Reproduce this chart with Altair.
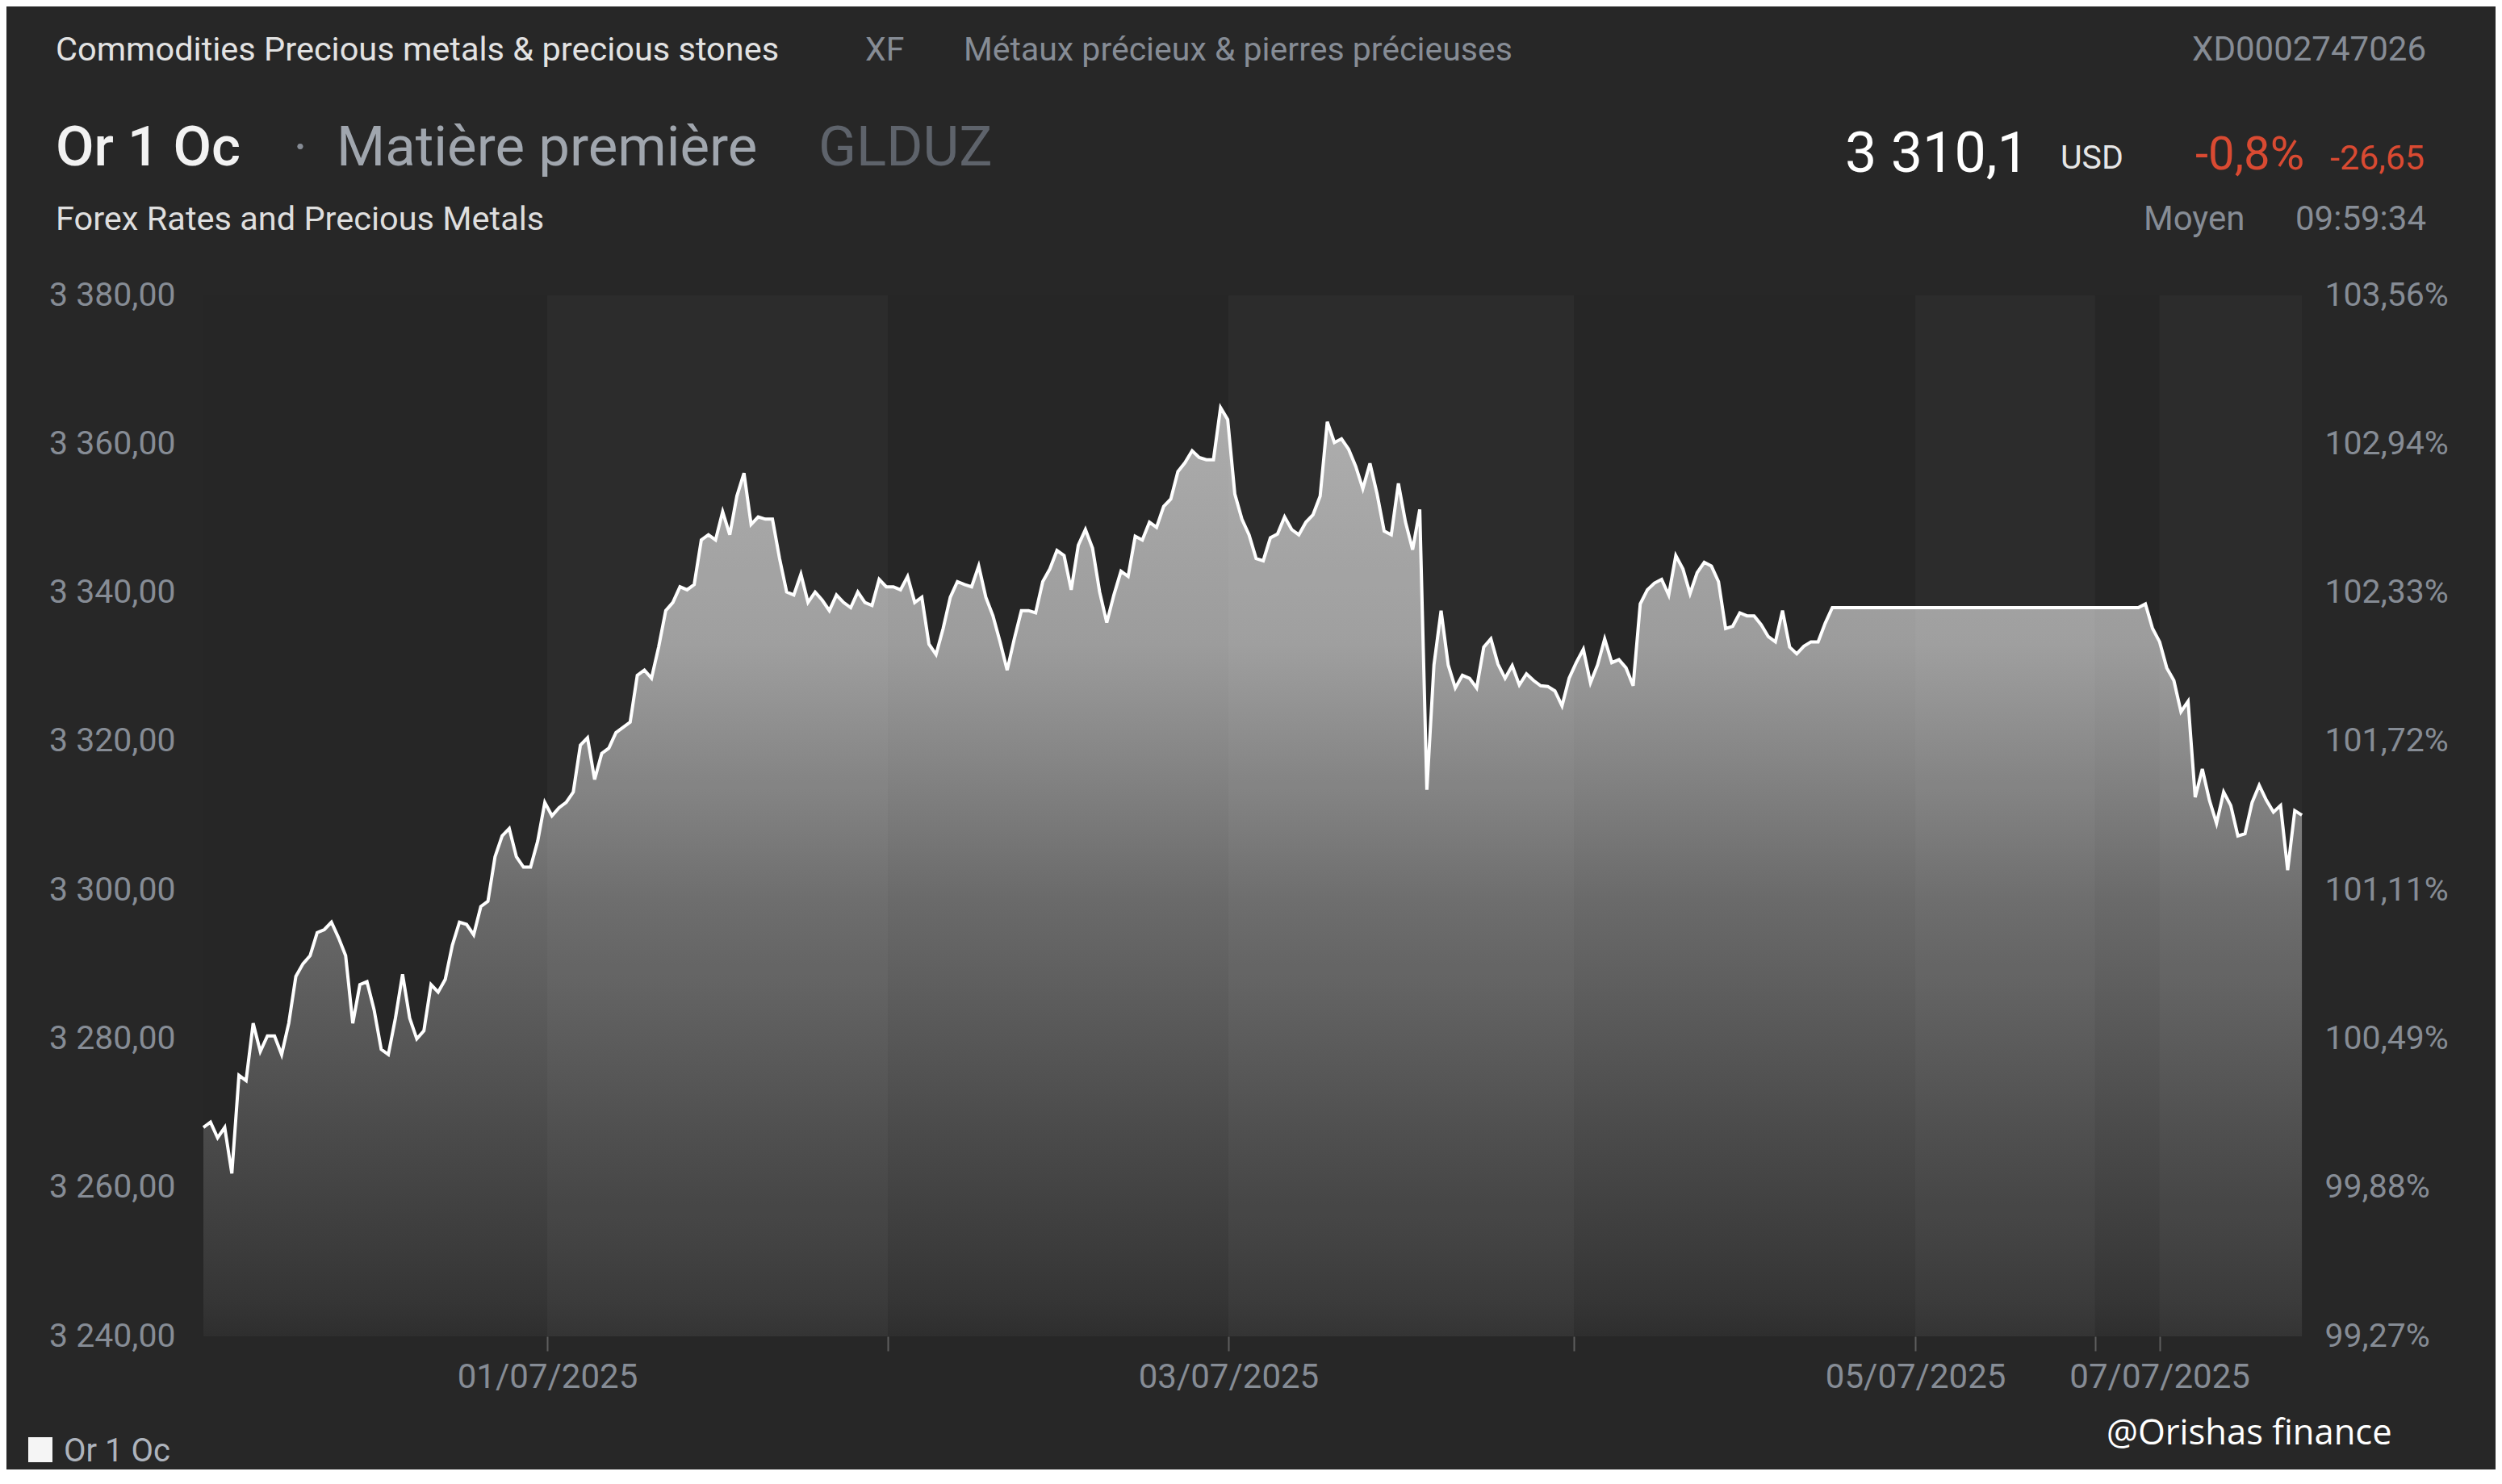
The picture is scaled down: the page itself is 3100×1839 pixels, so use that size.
import altair as alt
import pandas as pd

# ---------------- data ----------------
# prices sampled every 30 minutes on the (weekend-compressed) day axis
bar_minutes = 30
seg_a_start = 0.0      # 30/06 00:00
seg_a = [
    3268.1, 3268.8, 3266.7, 3268.1, 3261.9, 3275.1, 3274.4, 3282.1, 3278.3, 3280.4,
    3280.4, 3277.9, 3282.1, 3288.4, 3290.1, 3291.2, 3294.3, 3294.7, 3295.7, 3293.6,
    3291.2, 3282.1, 3287.3, 3287.7, 3283.9, 3278.6, 3277.9, 3282.8, 3288.7, 3282.8,
    3280.0, 3281.1, 3287.3, 3286.3, 3288.0, 3292.6, 3295.7, 3295.4, 3294.0, 3297.8,
    3298.5, 3304.5, 3307.3, 3308.3, 3304.5, 3303.1, 3303.1, 3306.6, 3311.8, 3310.0,
    3311.1, 3311.8, 3313.2, 3319.5, 3320.5, 3314.9, 3318.4, 3319.1, 3321.2, 3321.9,
    3322.6, 3328.9, 3329.6, 3328.5, 3332.7, 3337.6, 3338.7, 3340.8, 3340.4, 3341.1,
    3347.1, 3347.8, 3347.1, 3350.9, 3347.8, 3353.0, 3356.1, 3349.2, 3350.2, 3349.9,
    3349.9, 3344.6, 3340.1, 3339.7, 3342.5, 3338.7, 3340.1, 3339.0, 3337.6, 3339.7,
    3338.7, 3338.0, 3340.1, 3338.7, 3338.3, 3341.8, 3340.8, 3340.8, 3340.4, 3342.2,
    3338.7, 3339.4, 3333.1, 3331.7, 3335.2, 3339.4, 3341.5, 3341.1, 3340.8, 3343.6,
    3339.4, 3336.9, 3333.4, 3329.6, 3333.8, 3337.6, 3337.6, 3337.3, 3341.5, 3343.2,
    3345.7, 3345.0, 3340.4, 3346.4, 3348.5, 3346.0, 3340.1, 3336.0, 3339.7, 3342.9,
    3342.2, 3347.6, 3347.1, 3349.5, 3348.8, 3351.6, 3352.6, 3356.3, 3357.5, 3359.1,
    3358.2, 3357.9, 3357.9, 3364.9, 3363.3, 3353.3, 3349.9, 3347.8, 3344.6, 3344.3,
    3347.4, 3347.9, 3350.2, 3348.5, 3347.8, 3349.5, 3350.5, 3353.0, 3363.0, 3360.2,
    3360.7, 3359.3, 3357.0, 3354.0, 3357.4, 3353.3, 3348.3, 3347.8, 3354.7, 3349.5,
    3345.8, 3351.2, 3313.5, 3330.3, 3337.6, 3330.3, 3327.2, 3328.9, 3328.5, 3327.2,
    3332.7, 3333.8, 3330.4, 3328.5, 3330.2, 3327.6, 3329.1, 3328.2, 3327.5, 3327.4,
    3326.8, 3324.8, 3328.5, 3330.6, 3332.4, 3327.9, 3330.3, 3333.8, 3330.6, 3331.0,
    3329.9, 3327.5, 3338.5, 3340.4, 3341.3, 3341.8, 3339.7, 3345.0, 3343.2, 3339.9,
    3342.7, 3344.1, 3343.6, 3341.5, 3335.2, 3335.5, 3337.3, 3336.9, 3336.9, 3335.7,
    3334.1, 3333.4, 3337.6, 3332.7, 3331.8, 3332.8, 3333.4, 3333.4, 3335.9, 3338.0,
]
seg_b_start = 5.667    # Sunday evening reopening
seg_b = [
    3338.0, 3338.5, 3335.2, 3333.4, 3329.9, 3328.2, 3324.0, 3325.4, 3312.5, 3316.3,
    3312.1, 3309.0, 3313.2, 3311.4, 3307.3, 3307.6, 3311.8, 3314.1, 3312.1, 3310.5,
    3311.4, 3302.7, 3310.7, 3310.1,
]

# day sessions on the compressed axis (start of each day), and end of data
day_edges = [0.0, 1.007, 2.005, 3.002, 4.014, 5.014, 5.54, 5.729]
t_end = 6.146
day_tick_labels = ["01/07/2025", "", "03/07/2025", "", "05/07/2025", "", "07/07/2025"]

y_ticks = [3240, 3260, 3280, 3300, 3320, 3340, 3360, 3380]
y_labels_left = ["3 240,00", "3 260,00", "3 280,00", "3 300,00",
                 "3 320,00", "3 340,00", "3 360,00", "3 380,00"]
y_labels_right = ["99,27%", "99,88%", "100,49%", "101,11%",
                  "101,72%", "102,33%", "102,94%", "103,56%"]

# ---------------- tables ----------------
step = bar_minutes / 1440.0
rows = [{"t": seg_a_start + k * step, "v": v} for k, v in enumerate(seg_a)]
rows += [{"t": seg_b_start + k * step, "v": v} for k, v in enumerate(seg_b)]
df = pd.DataFrame(rows)

ends = day_edges[1:] + [t_end]
bands = pd.DataFrame({"t": day_edges, "end": ends,
                      "light": [i % 2 == 1 for i in range(len(day_edges))]})
light_bands = bands[bands["light"]]

# ---------------- styling ----------------
W, H = 2600, 1290
BG = "#272727"
AX = "#868c95"
FONT = "Roboto"


def js_list(lst):
    return "[" + ",".join(repr(x) if not isinstance(x, str) else "'" + x + "'" for x in lst) + "]"


x_ticks = day_edges[1:]
x_scale = alt.Scale(domain=[0, t_end], nice=False, zero=False)
x_axis = alt.Axis(values=x_ticks,
                  labelExpr=f"{js_list(day_tick_labels)}[indexof({js_list(x_ticks)}, datum.value)]",
                  grid=False, domain=False, tickColor="#5e5e5e", tickWidth=2,
                  tickSize=18, labelPadding=12, labelFontSize=42, labelColor=AX,
                  labelFont=FONT, labelOverlap=False, labelBound=False,
                  labelFlush=False, labelLimit=1000)
x_enc = alt.X("t:Q", title=None, scale=x_scale, axis=x_axis)

y_scale = alt.Scale(domain=[3240, 3380], nice=False, zero=False)

left_axis = alt.Axis(orient="left", values=y_ticks,
                     labelExpr=f"{js_list(y_labels_left)}[indexof({js_list(y_ticks)}, datum.value)]",
                     grid=False, domain=False, ticks=False, labelPadding=35,
                     labelFontSize=41, labelColor=AX, labelFont=FONT, labelOverlap=False,
                     labelLimit=1000)
right_axis = alt.Axis(orient="right", values=y_ticks,
                      labelExpr=f"{js_list(y_labels_right)}[indexof({js_list(y_ticks)}, datum.value)]",
                      grid=False, domain=False, ticks=False, labelPadding=28,
                      labelFontSize=41, labelColor=AX, labelFont=FONT, labelOverlap=False,
                      labelLimit=1000)

gradient = alt.LinearGradient(
    gradient="linear", x1=1, x2=1, y1=0, y2=1,
    stops=[
        alt.GradientStop(color="#acacac", offset=0),
        alt.GradientStop(color="#9c9c9c", offset=0.255),
        alt.GradientStop(color="#6a6a6a", offset=0.53),
        alt.GradientStop(color="#4c4c4c", offset=0.767),
        alt.GradientStop(color="#353535", offset=0.963),
        alt.GradientStop(color="#2e2e2e", offset=1),
    ],
)

area = alt.Chart(df).mark_area(color=gradient, interpolate="linear").encode(
    x=x_enc,
    y=alt.Y("v:Q", scale=y_scale, title=None, axis=left_axis),
    y2=alt.Y2(datum=3240),
)

band_layer = alt.Chart(light_bands).mark_rect(color="white", opacity=0.03).encode(
    x=x_enc,
    x2="end:Q",
)

line = alt.Chart(df).mark_line(color="#ffffff", strokeWidth=4, interpolate="linear").encode(
    x=x_enc,
    y=alt.Y("v:Q", scale=y_scale, title=None, axis=right_axis),
)


def txt(text, x, y, size, color, align="left", font=FONT, weight="normal"):
    return alt.Chart(alt.Data(values=[{}])).mark_text(
        text=text, align=align, baseline="alphabetic", font=font,
        fontSize=size, color=color, fontWeight=weight,
    ).encode(x=alt.value(x), y=alt.value(y))


# positions are relative to the plot's top-left corner
texts = [
    txt("Commodities Precious metals & precious stones", -183, -291, 41.5, "#e2e2e2"),
    txt("XF", 820, -291, 41, AX),
    txt("Métaux précieux & pierres précieuses", 942, -291, 41, AX),
    txt("XD0002747026", 2754, -291, 42, AX, align="right"),
    txt("Or 1 Oc", -183, -161, 69, "#f2f2f2", weight=500),
    txt("·", 120, -161, 64, AX, align="center"),
    txt("Matière première", 165, -161, 69, "#a0a6ae"),
    txt("GLDUZ", 762, -161, 69, "#5e636b"),
    txt("3 310,1", 2034, -153, 70, "#ffffff"),
    txt("USD", 2301, -157, 41, "#e6e6e6"),
    txt("-0,8%", 2468, -156, 58, "#d94a32"),
    txt("-26,65", 2635, -156, 43, "#d94a32"),
    txt("Forex Rates and Precious Metals", -183, -81, 41.5, "#dedede"),
    txt("Moyen", 2404, -81, 42, AX),
    txt("09:59:34", 2754, -81, 42, AX, align="right"),
    txt("Or 1 Oc", -173, 1445, 40, "#aeb4bd"),
    txt("@Orishas finance", 2358, 1424, 43.5, "#ffffff", font="Open Sans"),
]

legend_box = alt.Chart(alt.Data(values=[{}])).mark_rect(color="#f5f5f5").encode(
    x=alt.value(-217), x2=alt.value(-187), y=alt.value(1415), y2=alt.value(1446)
)

chart = alt.layer(area, band_layer, line, legend_box, *texts).resolve_scale(
    y="independent"
).properties(
    width=W, height=H,
    background=BG,
    padding={"left": 244, "top": 358, "right": 240, "bottom": 165},
    autosize=alt.AutoSizeParams(type="none"),
).configure_view(fill="#262626", strokeWidth=0)

chart.save("out.html", embed_options={"renderer": "svg", "actions": False})
